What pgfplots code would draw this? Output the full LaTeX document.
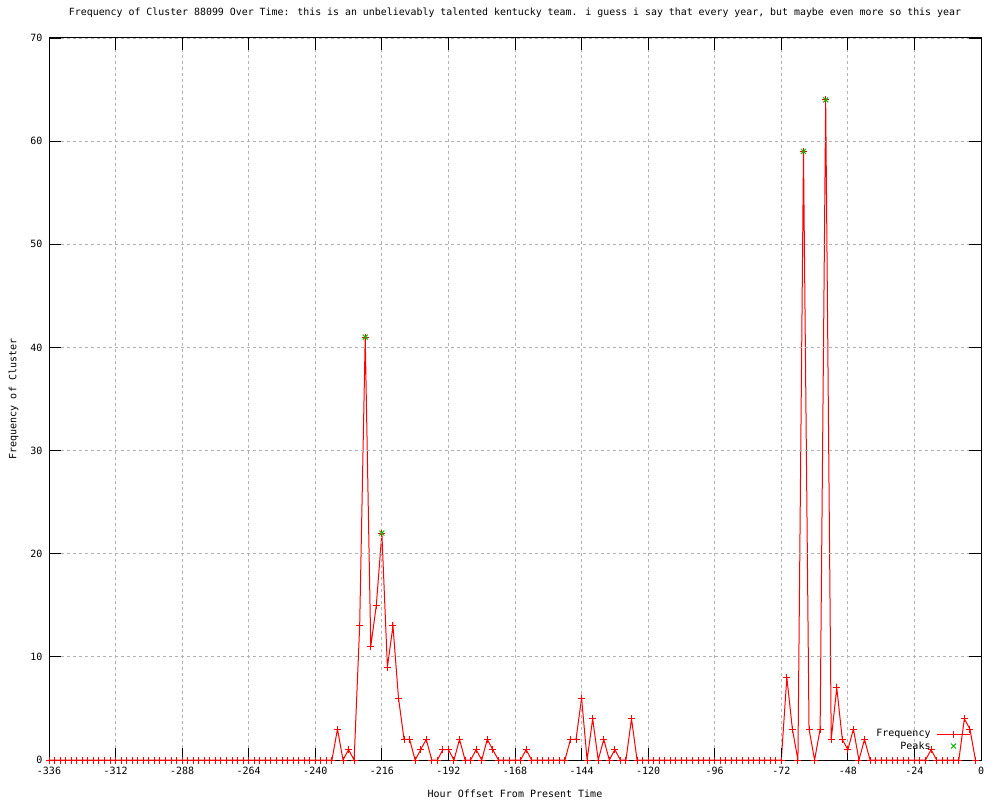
\documentclass[border=0pt]{standalone}
\usepackage{pgfplots}
\pgfplotsset{compat=1.18}
\usepackage{fontspec}
\setmainfont{DejaVu Sans Mono}
\definecolor{gpgreen}{RGB}{0,192,0}
\begin{document}
\fontsize{10}{12}\selectfont
\begin{tikzpicture}
\useasboundingbox (-49pt,-40pt) rectangle (951pt,760pt);
\begin{axis}[
  at={(0pt,0pt)}, anchor=south west,
  width=932pt, height=722pt, scale only axis,
  xmin=-336, xmax=0, ymin=0, ymax=70,
  xtick={-336,-312,...,0}, ytick={0,10,...,70},
  tick align=inside, major tick length=12pt,
  tick style={black, line width=0.8pt},
  grid=major, grid style={gray!60, dash pattern=on 3pt off 3pt, line width=0.8pt},
  axis line style={line width=1pt},
  axis on top,
  /pgf/number format/assume math mode=true,
  ticklabel style={font=\fontsize{10}{12}\selectfont},
  xticklabel style={yshift=-4pt},
  yticklabel style={xshift=-3pt},
  title={Frequency of Cluster 88099 Over Time: this is an unbelievably talented kentucky team. i guess i say that every year, but maybe even more so this year},
  title style={at={(axis description cs:0.5,1)}, anchor=base, yshift=16.5pt, font=\fontsize{9.9}{12}\selectfont},
  xlabel={Hour Offset From Present Time},
  xlabel style={at={(axis description cs:0.5,0)}, anchor=base, yshift=-37pt},
  ylabel={Frequency of Cluster},
  ylabel style={at={(axis description cs:-0.0349,0.5)}, anchor=base, rotate=0},
  legend cell align=right, legend plot pos=right,
  legend style={draw=none, fill=none, at={(axis description cs:0.989,0.010)}, anchor=south east,
    inner sep=0pt, row sep=-1pt, font=\fontsize{10}{12}\selectfont,
    /tikz/every odd column/.append style={column sep=4pt}},
  legend image code/.code={\draw[mark repeat=2,mark phase=2,#1] plot coordinates {(0pt,0pt) (16.5pt,0pt) (33pt,0pt)};},
]
\addplot[red, line width=1pt, mark=+, mark size=3.5pt, mark options={solid, line width=1pt}] coordinates {
(-336,0) (-334,0) (-332,0) (-330,0) (-328,0) (-326,0) (-324,0) (-322,0) (-320,0) (-318,0)
(-316,0) (-314,0) (-312,0) (-310,0) (-308,0) (-306,0) (-304,0) (-302,0) (-300,0) (-298,0)
(-296,0) (-294,0) (-292,0) (-290,0) (-288,0) (-286,0) (-284,0) (-282,0) (-280,0) (-278,0)
(-276,0) (-274,0) (-272,0) (-270,0) (-268,0) (-266,0) (-264,0) (-262,0) (-260,0) (-258,0)
(-256,0) (-254,0) (-252,0) (-250,0) (-248,0) (-246,0) (-244,0) (-242,0) (-240,0) (-238,0)
(-236,0) (-234,0) (-232,3) (-230,0) (-228,1) (-226,0) (-224,13) (-222,41) (-220,11) (-218,15)
(-216,22) (-214,9) (-212,13) (-210,6) (-208,2) (-206,2) (-204,0) (-202,1) (-200,2) (-198,0)
(-196,0) (-194,1) (-192,1) (-190,0) (-188,2) (-186,0) (-184,0) (-182,1) (-180,0) (-178,2)
(-176,1) (-174,0) (-172,0) (-170,0) (-168,0) (-166,0) (-164,1) (-162,0) (-160,0) (-158,0)
(-156,0) (-154,0) (-152,0) (-150,0) (-148,2) (-146,2) (-144,6) (-142,0) (-140,4) (-138,0)
(-136,2) (-134,0) (-132,1) (-130,0) (-128,0) (-126,4) (-124,0) (-122,0) (-120,0) (-118,0)
(-116,0) (-114,0) (-112,0) (-110,0) (-108,0) (-106,0) (-104,0) (-102,0) (-100,0) (-98,0)
(-96,0) (-94,0) (-92,0) (-90,0) (-88,0) (-86,0) (-84,0) (-82,0) (-80,0) (-78,0)
(-76,0) (-74,0) (-72,0) (-70,8) (-68,3) (-66,0) (-64,59) (-62,3) (-60,0) (-58,3)
(-56,64) (-54,2) (-52,7) (-50,2) (-48,1) (-46,3) (-44,0) (-42,2) (-40,0) (-38,0)
(-36,0) (-34,0) (-32,0) (-30,0) (-28,0) (-26,0) (-24,0) (-22,0) (-20,0) (-18,1)
(-16,0) (-14,0) (-12,0) (-10,0) (-8,0) (-6,4) (-4,3) (-2,0)
};
\addlegendentry{Frequency}
\addplot[only marks, gpgreen, mark=x, mark size=3.5pt, mark options={line width=1pt}] coordinates {
(-222,41) (-216,22) (-64,59) (-56,64)
};
\addlegendentry{Peaks}
\end{axis}
\end{tikzpicture}
\end{document}
